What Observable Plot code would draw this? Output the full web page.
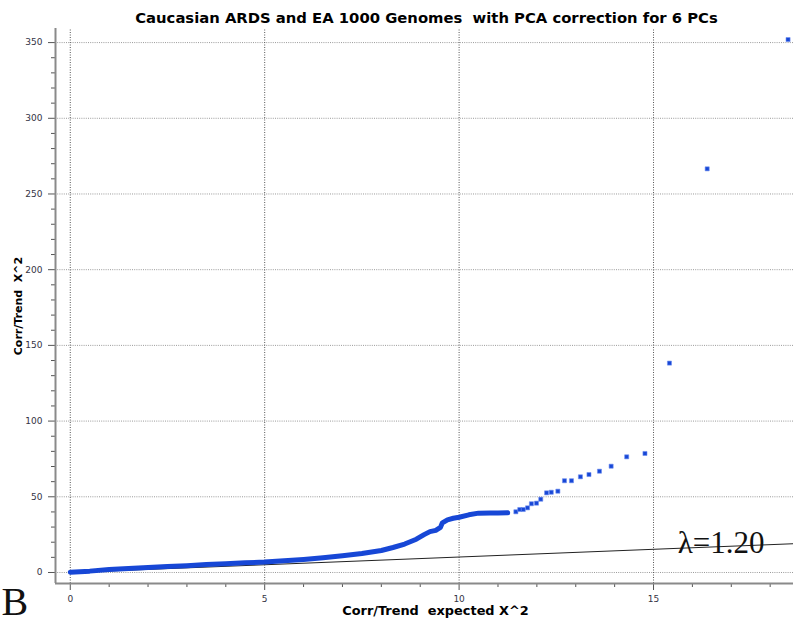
<!DOCTYPE html>
<html>
<head>
<meta charset="utf-8">
<script src="https://cdn.jsdelivr.net/npm/d3@7"></script>
<script src="https://cdn.jsdelivr.net/npm/@observablehq/plot@0.6"></script>
<style>
  html, body { margin: 0; padding: 0; background: #fff; }
  #chart svg { display: block; }
</style>
</head>
<body>
<div id="chart"></div>
<script>
// Observed vs expected trend chi-square (QQ), after 6-PC correction
const denseX = [0, 0.5, 1, 1.5, 2, 2.5, 3, 3.5, 4, 4.5, 5, 5.5, 6, 6.5, 7, 7.5, 8, 8.3, 8.6, 8.9, 9.1, 9.25, 9.4, 9.52, 9.57, 9.7, 9.85, 10, 10.25, 10.5, 10.8, 11.0, 11.25];
const denseY = [0.2, 0.9, 1.9, 2.6, 3.3, 3.9, 4.5, 5.2, 5.8, 6.4, 6.9, 7.7, 8.6, 9.7, 11.0, 12.5, 14.5, 16.5, 18.8, 22.0, 25.0, 27.0, 27.8, 29.8, 32.8, 34.8, 35.8, 36.5, 38.1, 39.2, 39.3, 39.3, 39.4];
const sparseX = [11.46, 11.56, 11.65, 11.76, 11.86, 11.99, 12.10, 12.25, 12.37, 12.54, 12.71, 12.89, 13.12, 13.34, 13.61, 13.91, 14.31, 14.78, 15.41, 16.38, 18.46];
const sparseY = [40.1, 41.6, 41.6, 42.7, 45.4, 45.8, 48.4, 52.6, 53.0, 53.7, 60.6, 60.6, 63.2, 64.7, 66.9, 70.2, 76.4, 78.6, 138.3, 266.6, 352];
// reference line of the fitted inflation
const refX = [0, 18.6];
const refY = [0, 19.0];
const lambdaLabel = "λ=1.20";
const panelLetter = "B";

const xTicks = [0, 5, 10, 15];
const yTicks = [0, 50, 100, 150, 200, 250, 300, 350];
const xMinor = d3.range(1, 19).filter(v => v % 5 !== 0);
const yMinor = d3.range(10, 351, 10).filter(v => v % 50 !== 0);

const xDomain = [-0.38, 18.6];
const yDomain = [-7.27, 359.3];

const dense = denseX.map((x, i) => ({x, y: denseY[i]}));
const sparse = sparseX.map((x, i) => ({x, y: sparseY[i]}));
const ref = refX.map((x, i) => ({x, y: refY[i]}));

const blue = "#1747d6";
const tickFont = {fontFamily: "DejaVu Sans", fontSize: 9};

const chart = Plot.plot({
  width: 793,
  height: 625,
  marginLeft: 55,
  marginRight: 0,
  marginTop: 28,
  marginBottom: 42,
  style: {fontFamily: "DejaVu Sans", fontSize: "9px", color: "#333344", background: "#fff"},
  x: {domain: xDomain, axis: null},
  y: {domain: yDomain, axis: null},
  marks: [
    // grid
    Plot.ruleY(yTicks, {x1: xDomain[0], x2: xDomain[1], stroke: "#9a9a9a", strokeDasharray: "1,1.2", strokeWidth: 1}),
    Plot.ruleX(xTicks, {y1: yDomain[0], y2: yDomain[1], stroke: "#555", strokeDasharray: "1,1.5", strokeWidth: 1}),
    // axes
    Plot.axisY(yTicks, {anchor: "left", tickSize: 7, tickPadding: 6, stroke: "#555", ...tickFont, label: null}),
    Plot.axisY(yMinor, {anchor: "left", tickSize: 4, text: null, stroke: "#555", label: null}),
    Plot.axisX(xTicks, {anchor: "bottom", tickSize: 7, tickPadding: 5, stroke: "#555", ...tickFont, label: null}),
    Plot.axisX(xMinor, {anchor: "bottom", tickSize: 4, text: null, stroke: "#555", label: null}),
    Plot.ruleX([xDomain[0]], {stroke: "#8a8a8a", strokeWidth: 2}),
    Plot.ruleY([yDomain[0]], {stroke: "#8a8a8a", strokeWidth: 2}),
    // reference line
    Plot.line(ref, {x: "x", y: "y", stroke: "#222", strokeWidth: 1}),
    // observed statistics
    Plot.line(dense, {x: "x", y: "y", stroke: blue, strokeWidth: 5, strokeLinejoin: "round"}),
    Plot.dot(sparse, {x: "x", y: "y", symbol: "square", r: 2.3, fill: blue, stroke: "#6f8ff0", strokeWidth: 0.6}),
    // annotations
    Plot.text([lambdaLabel], {text: d => d, frameAnchor: "bottom-right", textAnchor: "end", lineAnchor: "bottom", dx: -29, dy: -31, fontFamily: "Liberation Serif", fontSize: 31, fill: "#111"}),
    Plot.text([panelLetter], {text: d => d, frameAnchor: "bottom-left", textAnchor: "start", lineAnchor: "bottom", dx: -54, dy: 31, fontFamily: "Liberation Serif", fontSize: 40, fill: "#111"}),
    // titles
    Plot.text(["Caucasian ARDS and EA 1000 Genomes  with PCA correction for 6 PCs"], {text: d => d, frameAnchor: "top", textAnchor: "middle", lineAnchor: "middle", dx: 2, dy: -10, fontFamily: "DejaVu Sans", fontWeight: "bold", fontSize: 14.8, fill: "#000"}),
    Plot.text(["Corr/Trend  expected X^2"], {text: d => d, frameAnchor: "bottom", textAnchor: "middle", lineAnchor: "middle", dx: 11, dy: 27, fontFamily: "DejaVu Sans", fontWeight: "bold", fontSize: 12.9, fill: "#000"}),
    Plot.text(["Corr/Trend  X^2"], {text: d => d, frameAnchor: "left", textAnchor: "middle", rotate: -90, lineAnchor: "middle", dx: -37, dy: 0, fontFamily: "DejaVu Sans", fontWeight: "bold", fontSize: 11, fill: "#000"})
  ]
});
document.getElementById("chart").appendChild(chart);
</script>
</body>
</html>
